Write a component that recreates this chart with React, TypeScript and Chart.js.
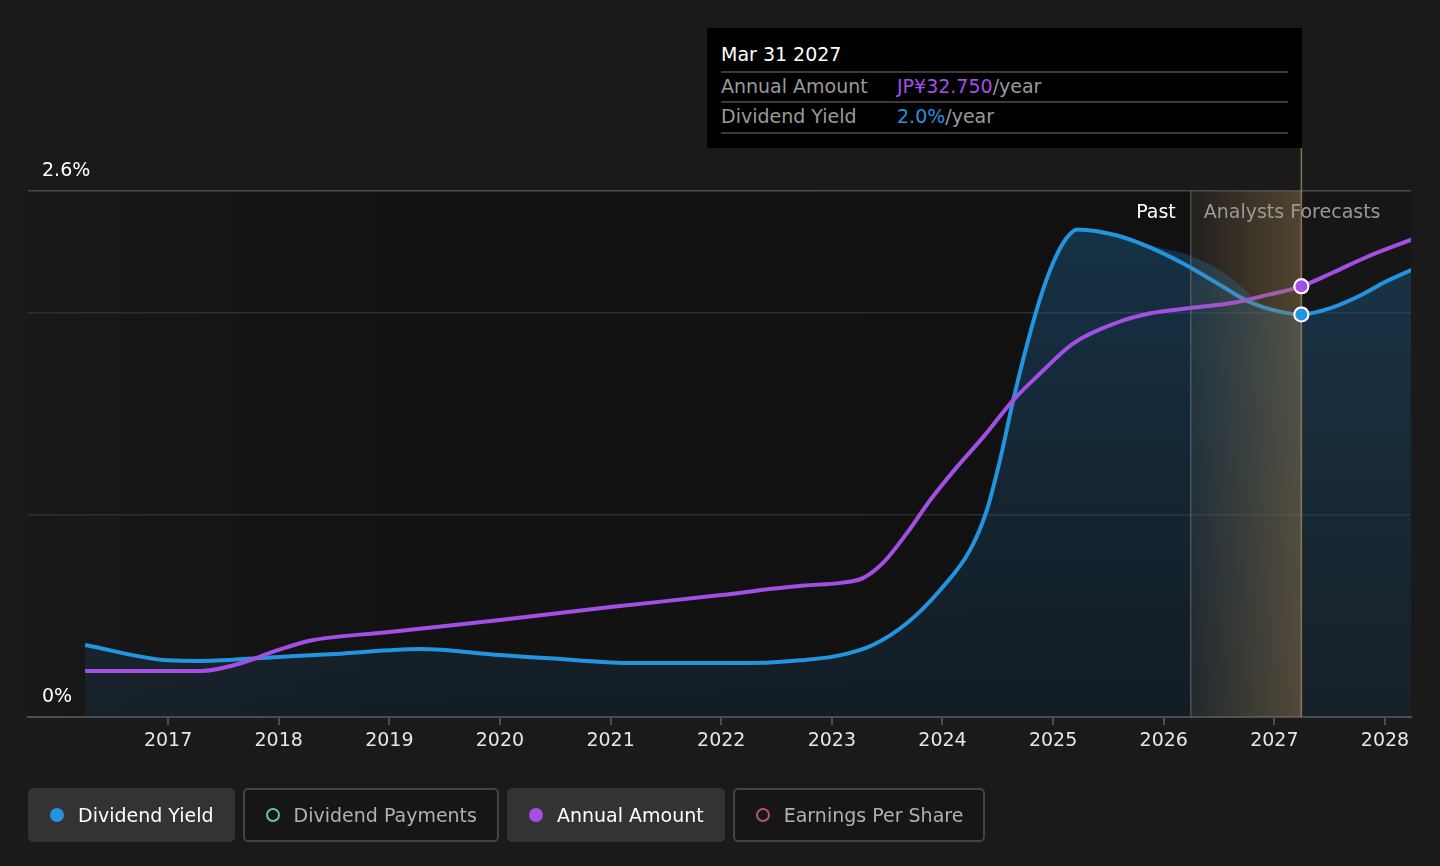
import { useEffect, useRef } from 'react';
import { Chart, registerables, type ChartConfiguration, type Plugin } from 'chart.js';

Chart.register(...registerables);

const FONT = "'DejaVu Sans', sans-serif";
const BLUE = '#2394df';
const PURPLE = '#a34fe6';

// x values are decimal years
const yieldYears = [
  2016.25, 2017.0, 2017.29, 2018.0, 2018.46, 2019.0, 2019.28, 2020.0, 2020.45, 2021.0, 2021.27,
  2022.0, 2022.44, 2022.71, 2023.08, 2023.37, 2023.68, 2023.98, 2024.25, 2024.4, 2024.52, 2024.64,
  2024.764, 2024.884, 2025.004, 2025.125, 2025.22, 2025.58, 2025.88, 2026.18, 2026.48, 2026.78,
  2027.08, 2027.244, 2027.5, 2027.8, 2028.0, 2028.24,
];
const yieldValues = [
  0.356, 0.28, 0.277, 0.297, 0.31, 0.33, 0.336, 0.306, 0.29, 0.27, 0.267,
  0.267, 0.27, 0.28, 0.306, 0.356, 0.465, 0.628, 0.826, 1.02, 1.27, 1.567,
  1.84, 2.07, 2.25, 2.37, 2.41, 2.38, 2.32, 2.24, 2.145, 2.05,
  2.0, 1.99, 2.02, 2.09, 2.15, 2.21,
];

// upper edge of the shaded area under the yield line (sits a little higher after the peak)
const shadeYears = [
  ...yieldYears.slice(0, 27),
  2025.55, 2025.97, 2026.22, 2026.575, 2026.756, 2026.92,
  2027.08, 2027.244, 2027.5, 2027.8, 2028.0, 2028.24,
];
const shadeValues = [
  ...yieldValues.slice(0, 27),
  2.39, 2.318, 2.284, 2.185, 2.1, 2.03,
  2.0, 1.99, 2.02, 2.09, 2.15, 2.21,
];

const amountYears = [
  2016.25, 2017.0, 2017.3, 2017.6, 2018.0, 2018.28, 2019.0, 2020.0, 2021.0, 2022.0, 2022.44,
  2022.75, 2023.08, 2023.28, 2023.46, 2023.68, 2023.89, 2024.13, 2024.37, 2024.64, 2024.88,
  2025.18, 2025.58, 2025.88, 2026.244, 2026.63, 2026.94, 2027.244, 2027.53, 2027.84, 2028.24,
];
const amountValues = [
  3.5, 3.5, 3.5, 3.95, 5.1, 5.8, 6.46, 7.37, 8.36, 9.27, 9.73,
  10.0, 10.2, 10.56, 11.7, 14.0, 16.5, 19.0, 21.3, 24.1, 26.1,
  28.4, 30.0, 30.7, 31.1, 31.5, 32.1, 32.75, 33.8, 35.0, 36.3,
];

const xMin = 2015.734;
const xMax = 2028.235;
const pastEnd = 2026.244;
const markerYear = 2027.244;
const yTicks = [0, 1, 2, 2.6];

const legendItems = [
  { label: 'Dividend Yield', color: BLUE, active: true },
  { label: 'Dividend Payments', color: '#5fc4b0', active: false },
  { label: 'Annual Amount', color: PURPLE, active: true },
  { label: 'Earnings Per Share', color: '#b54f86', active: false },
];

const overlayPlugin: Plugin<'line'> = {
  id: 'overlay',
  beforeDraw(chart) {
    const { ctx, chartArea, scales } = chart;
    if (!chartArea) return;
    const xs = scales['x'];
    const pastX = xs.getPixelForValue(pastEnd);
    const markX = xs.getPixelForValue(markerYear);
    ctx.save();
    ctx.fillStyle = '#1a1a1a';
    ctx.fillRect(0, 0, chart.width, chart.height);
    const g = ctx.createLinearGradient(chartArea.left, 0, pastX, 0);
    g.addColorStop(0, 'rgba(0,0,0,0.08)');
    g.addColorStop(0.3, 'rgba(0,0,0,0.3)');
    g.addColorStop(1, 'rgba(0,0,0,0.36)');
    ctx.fillStyle = g;
    ctx.fillRect(chartArea.left, chartArea.top, pastX - chartArea.left, chartArea.bottom - chartArea.top);
    ctx.fillStyle = 'rgba(0,0,0,0.15)';
    ctx.fillRect(markX, chartArea.top, chartArea.right - markX, chartArea.bottom - chartArea.top);
    ctx.restore();
  },
  afterDatasetsDraw(chart) {
    const { ctx, chartArea, scales } = chart;
    const xs = scales['x'];
    const ys = scales['y'];
    const pastX = xs.getPixelForValue(pastEnd);
    const markX = xs.getPixelForValue(markerYear);
    ctx.save();
    // forecast band
    const g = ctx.createLinearGradient(pastX, 0, markX, 0);
    g.addColorStop(0, 'rgba(150,120,75,0.06)');
    g.addColorStop(1, 'rgba(150,120,75,0.45)');
    ctx.fillStyle = g;
    ctx.fillRect(pastX, chartArea.top, markX - pastX, chartArea.bottom - chartArea.top);

    ctx.lineWidth = 1.5;
    ctx.strokeStyle = 'rgba(120,120,110,0.55)';
    ctx.beginPath();
    ctx.moveTo(pastX, chartArea.top);
    ctx.lineTo(pastX, chartArea.bottom);
    ctx.stroke();
    ctx.strokeStyle = 'rgba(150,130,90,0.85)';
    ctx.beginPath();
    ctx.moveTo(markX, 148);
    ctx.lineTo(markX, chartArea.bottom);
    ctx.stroke();

    // markers back on top of the band
    chart.data.datasets.forEach((ds, i) => {
      if (ds.label === 'shade') return;
      const idx = (ds.data as { x: number; y: number }[]).findIndex((p) => p.x === markerYear);
      const el = chart.getDatasetMeta(i).data[idx];
      if (el) el.draw(ctx);
    });

    ctx.font = `19px ${FONT}`;
    ctx.textBaseline = 'middle';
    ctx.fillStyle = '#ffffff';
    ctx.textAlign = 'left';
    ctx.fillText('2.6%', 42, ys.getPixelForValue(2.6) - 20);
    ctx.fillText('0%', 42, ys.getPixelForValue(0) - 20);
    ctx.textAlign = 'right';
    ctx.fillText('Past', pastX - 15, chartArea.top + 22);
    ctx.textAlign = 'left';
    ctx.fillStyle = '#9a9a9a';
    ctx.fillText('Analysts Forecasts', pastX + 13, chartArea.top + 22);
    ctx.restore();
  },
};

function ChartCanvas() {
  const canvasRef = useRef<HTMLCanvasElement>(null);

  useEffect(() => {
    if (!canvasRef.current) return;
    const markerRadius = (c: any) => (c.raw && c.raw.x === markerYear ? 7 : 0);

    const config: ChartConfiguration<'line'> = {
      type: 'line',
      data: {
        datasets: [
          {
            label: 'Annual Amount',
            data: amountYears.map((x, i) => ({ x, y: amountValues[i] })),
            yAxisID: 'y2',
            borderColor: PURPLE,
            borderWidth: 4,
            cubicInterpolationMode: 'monotone',
            fill: false,
            pointRadius: markerRadius,
            pointHoverRadius: markerRadius,
            pointBackgroundColor: PURPLE,
            pointBorderColor: '#ffffff',
            pointBorderWidth: 2,
          },
          {
            label: 'Dividend Yield',
            data: yieldYears.map((x, i) => ({ x, y: yieldValues[i] })),
            yAxisID: 'y',
            borderColor: BLUE,
            borderWidth: 4,
            cubicInterpolationMode: 'monotone',
            fill: false,
            pointRadius: markerRadius,
            pointHoverRadius: markerRadius,
            pointBackgroundColor: BLUE,
            pointBorderColor: '#ffffff',
            pointBorderWidth: 2,
          },
          {
            label: 'shade',
            data: shadeYears.map((x, i) => ({ x, y: shadeValues[i] })),
            yAxisID: 'y',
            borderWidth: 0,
            borderColor: 'rgba(0,0,0,0)',
            cubicInterpolationMode: 'monotone',
            pointRadius: 0,
            fill: 'origin',
            backgroundColor: (c) => {
              const area = c.chart.chartArea;
              if (!area) return 'rgba(28,100,150,0.3)';
              const g = c.chart.ctx.createLinearGradient(0, area.top, 0, area.bottom);
              g.addColorStop(0, 'rgba(28,100,150,0.42)');
              g.addColorStop(1, 'rgba(28,80,120,0.18)');
              return g;
            },
          },
        ],
      },
      options: {
        responsive: false,
        animation: false,
        events: [],
        layout: { padding: { left: 28, right: 29, top: 191, bottom: 0 } },
        scales: {
          x: {
            type: 'linear',
            min: xMin,
            max: xMax,
            afterFit: (axis) => {
              axis.height = 149;
            },
            afterBuildTicks: (axis) => {
              axis.ticks = axis.ticks.filter((t) => Number.isInteger(t.value) && t.value >= 2017);
            },
            grid: { drawOnChartArea: false, drawTicks: true, tickLength: 8, color: '#4d4d4d', lineWidth: 2 },
            border: { color: '#4d4d4d', width: 2 },
            ticks: {
              stepSize: 1,
              includeBounds: false,
              color: '#e6e6e6',
              font: { family: FONT, size: 19 },
              padding: 5,
              maxRotation: 0,
              callback: (v) => String(v),
            },
          },
          y: {
            min: 0,
            max: 2.6,
            afterFit: (axis) => {
              axis.width = 0;
            },
            afterBuildTicks: (axis) => {
              axis.ticks = yTicks.map((value) => ({ value }));
            },
            border: { display: false },
            grid: {
              drawTicks: false,
              lineWidth: 1.5,
              color: (c) => (c.tick.value === 2.6 ? '#4a4a4a' : c.tick.value === 0 ? 'rgba(0,0,0,0)' : '#2e2e2e'),
            },
            ticks: { display: false },
          },
          y2: { display: false, min: 0, max: 40 },
        },
        plugins: { legend: { display: false }, tooltip: { enabled: false } },
      },
      plugins: [overlayPlugin],
    };

    const chart = new Chart(canvasRef.current, config);
    return () => chart.destroy();
  }, []);

  return <canvas ref={canvasRef} width={1440} height={866} style={{ position: 'absolute', left: 0, top: 0 }} />;
}

export default function App() {
  const rowLine = { height: 2, background: '#3a3a3a', margin: '0 14px' };
  return (
    <div
      style={{
        position: 'fixed',
        inset: 0,
        width: 1440,
        height: 866,
        background: '#1a1a1a',
        fontFamily: FONT,
        overflow: 'hidden',
      }}
    >
      <ChartCanvas />
      <div
        style={{
          position: 'absolute',
          left: 707,
          top: 28,
          width: 595,
          height: 120,
          background: '#000',
          fontSize: 19,
          boxSizing: 'border-box',
          paddingTop: 12,
        }}
      >
        <div style={{ color: '#fff', padding: '0 14px', height: 31, lineHeight: '29px' }}>Mar 31 2027</div>
        <div style={rowLine} />
        <div style={{ display: 'flex', padding: '0 14px', height: 28, lineHeight: '27px', color: '#9a9a9a' }}>
          <span style={{ width: 176 }}>Annual Amount</span>
          <span>
            <span style={{ color: PURPLE }}>JP¥32.750</span>/year
          </span>
        </div>
        <div style={rowLine} />
        <div style={{ display: 'flex', padding: '0 14px', height: 29, lineHeight: '27px', color: '#9a9a9a' }}>
          <span style={{ width: 176 }}>Dividend Yield</span>
          <span>
            <span style={{ color: BLUE }}>2.0%</span>/year
          </span>
        </div>
        <div style={rowLine} />
      </div>
      <div style={{ position: 'absolute', left: 28, top: 788, display: 'flex', gap: 8 }}>
        {legendItems.map((item) => (
          <div
            key={item.label}
            style={{
              height: 54,
              boxSizing: 'border-box',
              display: 'flex',
              alignItems: 'center',
              padding: '0 20px 0 21px',
              borderRadius: 5,
              background: item.active ? '#333333' : '#161616',
              border: item.active ? '1px solid #333333' : '2px solid #444444',
              color: item.active ? '#ffffff' : '#b0b0b0',
              fontSize: 19,
            }}
          >
            <span
              style={{
                width: 14,
                height: 14,
                borderRadius: '50%',
                boxSizing: 'border-box',
                background: item.active ? item.color : 'transparent',
                border: item.active ? 'none' : `2px solid ${item.color}`,
                marginRight: 14,
              }}
            />
            {item.label}
          </div>
        ))}
      </div>
    </div>
  );
}
